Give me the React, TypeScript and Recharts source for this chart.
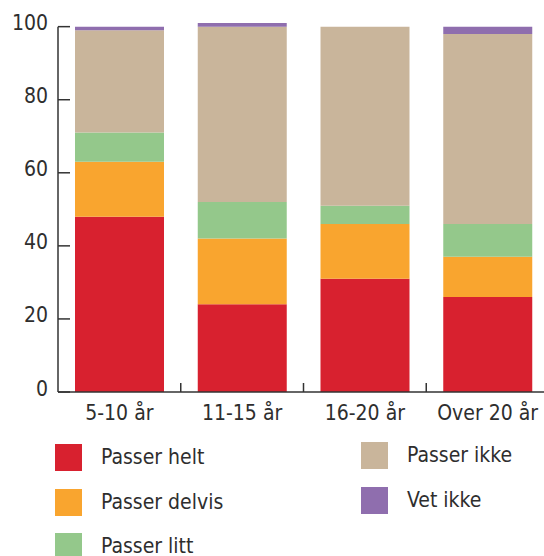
import { Bar, BarChart, Legend, ReferenceLine, XAxis, YAxis } from "recharts";

const categories = ["5-10 år", "11-15 år", "16-20 år", "Over 20 år"];
const passerHelt = [48, 24, 31, 26];
const passerDelvis = [15, 18, 15, 11];
const passerLitt = [8, 10, 5, 9];
const passerIkke = [28, 48, 49, 52];
const vetIkke = [1, 1, 0, 2];
const yTicks = [0, 20, 40, 60, 80, 100];

const series = [
  { key: "helt", name: "Passer helt", values: passerHelt, color: "#d8212f" },
  { key: "delvis", name: "Passer delvis", values: passerDelvis, color: "#f9a52f" },
  { key: "litt", name: "Passer litt", values: passerLitt, color: "#94c88b" },
  { key: "ikke", name: "Passer ikke", values: passerIkke, color: "#c9b59b" },
  { key: "vet", name: "Vet ikke", values: vetIkke, color: "#8f6eae" },
];

const data = categories.map((cat, i) => {
  const row: Record<string, string | number> = { cat };
  series.forEach((s) => (row[s.key] = s.values[i]));
  return row;
});

const FONT = "'DejaVu Sans Condensed', 'DejaVu Sans', sans-serif";
const TEXT = "#2e2e2e";
const AXIS = "#333";
const Y_W = 58;
const CHART_W = 549;
const BAND = (CHART_W - Y_W) / categories.length;

function YTick(props: any) {
  const { x, y, payload } = props;
  return (
    <text x={x} y={y} dy={3.5} textAnchor="end" fontSize={21} fill={TEXT} style={{ fontStretch: "condensed" }}>
      {payload.value}
    </text>
  );
}

function XTick(props: any) {
  const { x, y, payload } = props;
  const i = categories.indexOf(payload.value);
  return (
    <g>
      {i < categories.length - 1 && (
        <line x1={x + BAND / 2} x2={x + BAND / 2} y1={y - 9} y2={y} stroke={AXIS} strokeWidth={1.5} />
      )}
      <text x={x} y={y + 28} textAnchor="middle" fontSize={21} fill={TEXT} style={{ fontStretch: "condensed" }}>
        {payload.value}
      </text>
    </g>
  );
}

function LegendBox(props: any) {
  const items = series.map((s) => ({
    name: s.name,
    color: (props.payload || []).find((p: any) => p.dataKey === s.key)?.color || s.color,
  }));
  const cols = [items.slice(0, 3), items.slice(3)];
  const colPos = [
    { left: 55, top: 444 },
    { left: 361, top: 442 },
  ];
  return (
    <div style={{ position: "relative", width: 544, height: 112 }}>
      {cols.map((col, c) =>
        col.map((it, r) => (
          <div
            key={it.name}
            style={{
              position: "absolute",
              left: colPos[c].left,
              top: colPos[c].top - 440 + r * 44.5,
              display: "flex",
              alignItems: "center",
              height: 27,
            }}
          >
            <span style={{ width: 27, height: 27, background: it.color, display: "inline-block" }} />
            <span
              style={{
                marginLeft: 19,
                fontSize: 21,
                color: TEXT,
                fontStretch: "condensed",
                whiteSpace: "nowrap",
                lineHeight: "27px",
              }}
            >
              {it.name}
            </span>
          </div>
        ))
      )}
    </div>
  );
}

export default function App() {
  return (
    <div
      style={{
        position: "absolute",
        left: 0,
        top: 0,
        width: 544,
        height: 556,
        overflow: "hidden",
        background: "#fff",
        fontFamily: FONT,
        fontStretch: "condensed",
      }}
    >
      <BarChart width={CHART_W} height={556} data={data} margin={{ top: 23, right: 0, bottom: 124, left: 0 }}>
        <XAxis
          dataKey="cat"
          height={40}
          tickSize={0}
          tickMargin={0}
          tickLine={false}
          axisLine={{ stroke: AXIS, strokeWidth: 1.5 }}
          tick={<XTick />}
          interval={0}
        />
        <YAxis
          width={Y_W}
          domain={[0, 101]}
          ticks={yTicks}
          axisLine={false}
          tickSize={-12}
          tickMargin={22}
          tickLine={{ stroke: AXIS, strokeWidth: 1.5 }}
          tick={<YTick />}
        />
        {series.map((s) => (
          <Bar key={s.key} dataKey={s.key} name={s.name} stackId="a" fill={s.color} barSize={89} isAnimationActive={false} />
        ))}
        <ReferenceLine
          segment={[
            { x: categories[0], y: 0 },
            { x: categories[0], y: 100 },
          ]}
          position="start"
          stroke={AXIS}
          strokeWidth={1.5}
        />
        <Legend
          layout="horizontal"
          verticalAlign="middle"
          wrapperStyle={{ position: "absolute", left: 0, top: 440, width: 544 }}
          content={<LegendBox />}
        />
      </BarChart>
    </div>
  );
}
